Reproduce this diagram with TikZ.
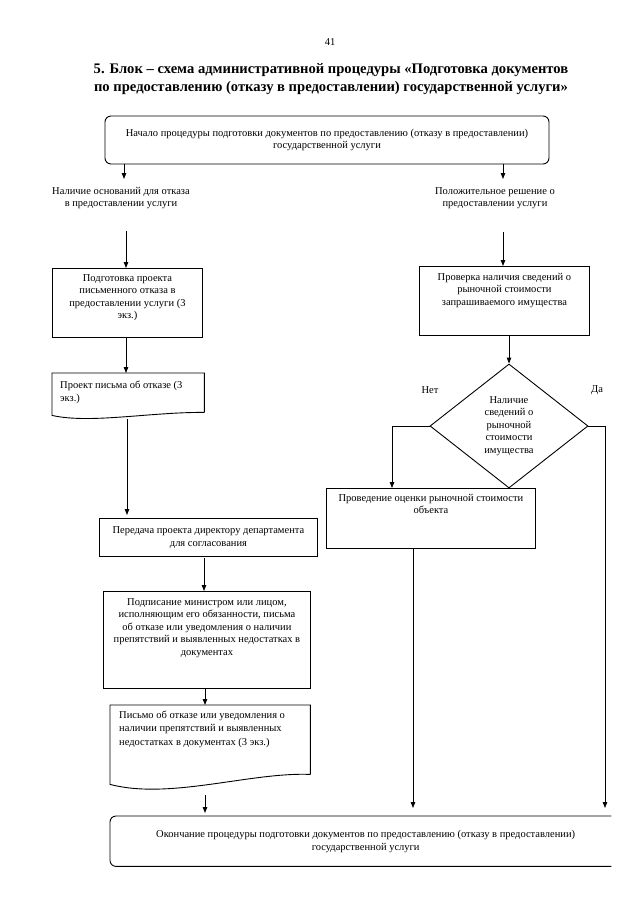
\documentclass[tikz,border=0pt]{standalone}
\usepackage{fontspec}
\setmainfont{Liberation Serif}
\usetikzlibrary{shapes.geometric,arrows.meta,calc}
\begin{document}
\begin{tikzpicture}[x=1pt,y=-1pt,
  ln/.style={line width=0.9pt},
  box/.style={draw, line width=0.9pt, inner sep=0pt},
  ghost/.style={inner sep=0pt},
  txt/.style={font=\fontsize{10.5}{12.6}\selectfont, align=center, inner sep=0pt},
  ltxt/.style={font=\fontsize{10.5}{13.2}\selectfont, align=left, inner sep=0pt},
  arr/.style={-{Triangle[length=6pt,width=4.5pt]}, line width=0.9pt}]
\useasboundingbox (0,0) rectangle (635,905);

% header
\node[font=\fontsize{10.5}{12}\selectfont, inner sep=0pt] (pg) at (330,42) {41};
\node[font=\fontsize{14.6}{18}\selectfont\bfseries, align=center, inner sep=0pt] (title) at (331,79)
  {5. Блок – схема административной процедуры «Подготовка документов\\
   по предоставлению (отказу в предоставлении) государственной услуги»};

% top
\node[box, rounded corners=6pt, minimum width=444pt, minimum height=48pt, txt] (top) at (327,140)
  {Начало процедуры подготовки документов по предоставлению (отказу в предоставлении)\\
   государственной услуги};

\node[txt] (lblL) at (121,198) {Наличие оснований для отказа\\в предоставлении услуги};
\node[txt] (lblR) at (495,198) {Положительное решение о\\предоставлении услуги};
\coordinate (aL) at (124,179);
\coordinate (aR) at (503,179);
\draw[arr] (top.south -| aL) -- (aL);
\draw[arr] (top.south -| aR) -- (aR);

% left column
\node[box, minimum width=150pt, minimum height=69pt, anchor=north west] (b1) at (52,268) {};
\node[txt, anchor=north] (t1) at ([yshift=-6pt]b1.north) {Подготовка проекта\\письменного отказа в\\предоставлении услуги (3\\экз.)};
\coordinate (sL) at (126,231);
\draw[arr] (sL) -- (sL |- b1.north);

\node[ghost, minimum width=152pt, minimum height=39pt, anchor=north west] (d1) at (52,373) {};
\draw[ln] (d1.south east) -- (d1.north east) -- (d1.north west) -- ($(d1.south west)+(0,3)$)
  .. controls (90,424) and (150,412) .. (d1.south east);
\node[ltxt, anchor=north west] (t2) at ([xshift=8pt,yshift=-8pt]d1.north west) {Проект письма об отказе (3\\экз.)};
\draw[arr] (b1.south -| sL) -- (sL |- d1.north);

\node[box, minimum width=218pt, minimum height=38pt, anchor=north west, txt] (b2) at (99,518)
  {Передача проекта директору департамента\\для согласования};
\coordinate (sD) at (127,419);
\draw[arr, shorten >=3pt] (sD) -- (sD |- b2.north);

\node[box, minimum width=207pt, minimum height=97pt, anchor=north west] (b3) at (103,591) {};
\node[txt, anchor=north] (t3) at ([yshift=-7pt]b3.north) {Подписание министром или лицом,\\исполняющим его обязанности, письма\\об отказе или уведомления о наличии\\препятствий и выявленных недостатках в\\документах};
\coordinate (s3) at (204,558);
\draw[arr] (s3) -- (s3 |- b3.north);

\node[ghost, minimum width=200pt, minimum height=69pt, anchor=north west] (d2) at (110,705) {};
\draw[ln] (d2.south east) -- (d2.north east) -- (d2.north west) -- ($(d2.south west)+(0,10)$)
  .. controls (170,800) and (250,772) .. (d2.south east);
\node[ltxt, anchor=north west] (t4) at ([xshift=9pt,yshift=-6pt]d2.north west) {Письмо об отказе или уведомления о\\наличии препятствий и выявленных\\недостатках в документах (3 экз.)};
\coordinate (s4) at (205,705);
\draw[arr] (b3.south -| s4) -- (s4);

% bottom
\node[ghost, minimum width=501pt, minimum height=50pt, anchor=north west] (bot) at (110,816) {};
\draw[ln, rounded corners=6pt] (bot.north east) -- (bot.north west) -- (bot.south west) -- (bot.south east);
\node[txt] (tb) at ([xshift=5pt]bot.center)
  {Окончание процедуры подготовки документов по предоставлению (отказу в предоставлении)\\
   государственной услуги};
\coordinate (s5) at (205,795);
\draw[arr, shorten >=3pt] (s5) -- (s5 |- bot.north);

% right column
\node[box, minimum width=170pt, minimum height=69pt, anchor=north west] (b4) at (419,266) {};
\node[txt, anchor=north] (t6) at ([yshift=-7pt]b4.north) {Проверка наличия сведений о\\рыночной стоимости\\запрашиваемого имущества};
\coordinate (sR) at (503,232);
\draw[arr] (sR) -- (sR |- b4.north);

\node[diamond, draw, line width=0.9pt, inner sep=0pt, minimum width=158pt, minimum height=124pt, txt] (dm) at (509,426)
  {Наличие\\сведений о\\рыночной\\стоимости\\имущества};
\draw[arr] (b4.south -| dm.north) -- (dm.north);

\node[txt] (no) at (430,390) {Нет};
\node[txt] (yes) at (597,390) {Да};

\node[box, minimum width=209pt, minimum height=60pt, anchor=north west] (b5) at (326,488) {};
\node[txt, anchor=north] (t7) at ([yshift=-6pt]b5.north) {Проведение оценки рыночной стоимости\\объекта};
\coordinate (kL) at (392,488);
\draw[arr] (dm.west) -| (kL);

\coordinate (kM) at (413,816);
\draw[arr, shorten >=8pt] (b5.south -| kM) -- (kM);
\coordinate (kR) at (605,816);
\draw[arr, shorten >=8pt] (dm.east) -| (kR);
\end{tikzpicture}
\end{document}
